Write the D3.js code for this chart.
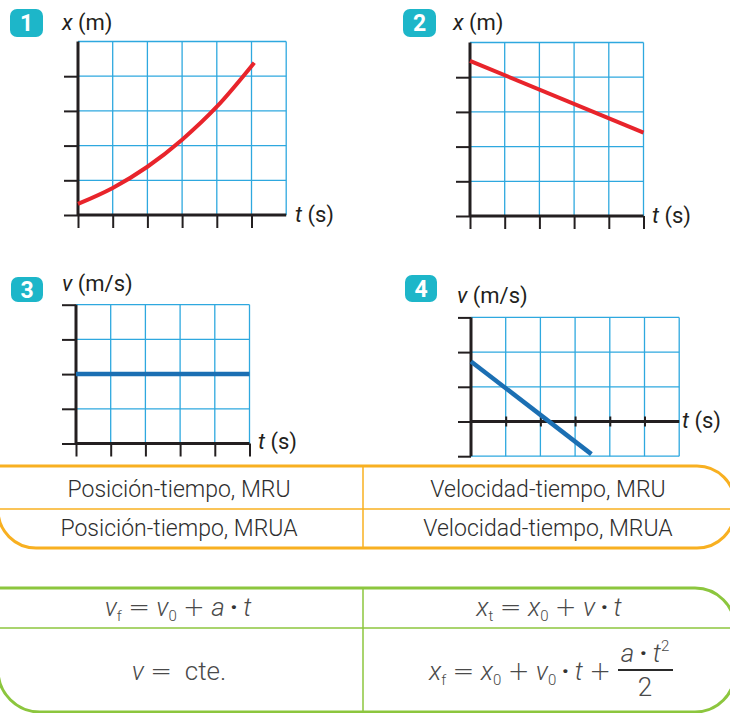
<!DOCTYPE html>
<html>
<head>
<meta charset="utf-8">
<script src="https://cdn.jsdelivr.net/npm/d3@7"></script>
<style>
  html, body { margin: 0; padding: 0; background: #fff; overflow: hidden; }
  svg { display: block; font-family: Roboto, "Noto Sans", sans-serif; }
</style>
</head>
<body>
<svg id="chart" width="730" height="713"></svg>
<script>
// ---- Data -------------------------------------------------------------
// Graph 1: position–time, uniformly accelerated motion (MRUA)
const g1Time = [0, 1, 2, 3, 4, 5.08];
const g1Pos  = [0.32, 0.78, 1.39, 2.17, 3.12, 4.39];
// Graph 2: position–time, uniform motion (MRU)
const g2Time = [0, 5];
const g2Pos  = [4.47, 2.4];
// Graph 3: velocity–time, uniform motion (MRU)
const g3Time = [0, 5];
const g3Vel  = [2, 2];
// Graph 4: velocity–time, uniformly accelerated motion (MRUA)
const g4Time = [0, 3.47];
const g4Vel  = [1.73, -0.94];

const panelNumbers = ["1", "2", "3", "4"];
const axisSymbols  = ["x", "x", "v", "v"];
const axisUnits    = [" (m)", " (m)", " (m/s)", " (m/s)"];
const timeLabel    = ["t", " (s)"];

// Matching table (orange) and formula table (green)
const graphTypes = [
  ["Posición-tiempo, MRU",  "Velocidad-tiempo, MRU"],
  ["Posición-tiempo, MRUA", "Velocidad-tiempo, MRUA"]
];

// ---- Setup ------------------------------------------------------------
const svg = d3.select("#chart");
const CELL = 34.7;
const GRID = "#2ea8df";
const INK = "#231f20";
const RED = "#e8242b";
const BLUE = "#1b6fb3";
const TEAL = "#1db6c9";

const zip = (a, b) => a.map((v, i) => [v, b[i]]);

const panels = [
  { ox: 78,  oy: 215,   cols: 6, yMin: 0,  yMax: 5,
    yTicks: [0, 1, 2, 3, 4], xTicks: [0, 1, 2, 3, 4, 5], cross: false,
    data: zip(g1Time, g1Pos), color: RED, width: 4, curve: d3.curveMonotoneX,
    badge: [10, 9, 33, 28], title: [62, 30], tlab: [295, 222] },
  { ox: 470, oy: 216,   cols: 5, yMin: 0,  yMax: 5,
    yTicks: [0, 1, 2, 3, 4], xTicks: [0, 1, 2, 3, 4, 5], cross: false,
    data: zip(g2Time, g2Pos), color: RED, width: 4, curve: d3.curveLinear,
    badge: [403, 9, 33, 28], title: [453, 30], tlab: [652, 223] },
  { ox: 76,  oy: 443.5, cols: 5, yMin: 0,  yMax: 4,
    yTicks: [0, 1, 2, 3, 4], xTicks: [0, 1, 2, 3, 4, 5], cross: false,
    data: zip(g3Time, g3Vel), color: BLUE, width: 4.5, curve: d3.curveLinear,
    badge: [11, 277, 32, 25], title: [62, 291], tlab: [258, 449] },
  { ox: 471, oy: 421.5, cols: 6, yMin: -1, yMax: 3,
    yTicks: [-1, 0, 1, 2, 3], xTicks: [1, 2, 3, 4, 5], cross: true,
    data: zip(g4Time, g4Vel), color: BLUE, width: 4.5, curve: d3.curveLinear,
    badge: [405, 275, 32, 27], title: [457, 303], tlab: [682, 428] }
];

panels.forEach((p, i) => {
  const g = svg.append("g");
  const x = d3.scaleLinear().domain([0, p.cols]).range([p.ox, p.ox + p.cols * CELL]);
  const y = d3.scaleLinear().domain([p.yMin, p.yMax])
    .range([p.oy - p.yMin * CELL, p.oy - p.yMax * CELL]);

  // grid
  g.append("g").selectAll("line.h").data(d3.range(p.yMin, p.yMax + 1)).join("line")
    .attr("x1", x(0)).attr("x2", x(p.cols))
    .attr("y1", d => y(d)).attr("y2", d => y(d))
    .attr("stroke", GRID).attr("stroke-width", 1.3);
  g.append("g").selectAll("line.v").data(d3.range(1, p.cols + 1)).join("line")
    .attr("x1", d => x(d)).attr("x2", d => x(d))
    .attr("y1", y(p.yMin)).attr("y2", y(p.yMax))
    .attr("stroke", GRID).attr("stroke-width", 1.3);

  // ticks
  const left = g.append("g").attr("transform", `translate(${x(0)},0)`)
    .call(d3.axisLeft(y).tickValues(p.yTicks).tickSize(p.cross ? 13 : 14).tickFormat(""));
  left.select(".domain").remove();
  left.selectAll("line").attr("stroke", INK).attr("stroke-width", 2);

  const tickLen = p.cross ? 10 : 13;
  const bottom = g.append("g")
    .attr("transform", `translate(0,${y(0) - (p.cross ? 5 : 0)})`)
    .call(d3.axisBottom(x).tickValues(p.xTicks).tickSize(tickLen).tickFormat(""));
  bottom.select(".domain").remove();
  bottom.selectAll("line").attr("stroke", INK).attr("stroke-width", 2);

  // axes
  g.append("line").attr("x1", x(0)).attr("x2", x(0))
    .attr("y1", y(p.yMax)).attr("y2", y(p.yMin))
    .attr("stroke", INK).attr("stroke-width", 3);
  g.append("line").attr("x1", x(0)).attr("x2", x(p.cols))
    .attr("y1", y(0)).attr("y2", y(0))
    .attr("stroke", INK).attr("stroke-width", 3);

  // series
  g.append("path").datum(p.data)
    .attr("d", d3.line().x(d => x(d[0])).y(d => y(d[1])).curve(p.curve))
    .attr("fill", "none").attr("stroke", p.color).attr("stroke-width", p.width);

  // number badge
  const [bx, by, bw, bh] = p.badge;
  g.append("rect").attr("x", bx).attr("y", by).attr("width", bw).attr("height", bh)
    .attr("rx", 7).attr("fill", TEAL);
  g.append("text").attr("x", bx + bw / 2).attr("y", by + bh / 2 + 8)
    .attr("text-anchor", "middle").attr("fill", "#fff")
    .attr("font-size", 23).attr("font-weight", 700).text(panelNumbers[i]);

  // axis titles
  const ttl = g.append("text").attr("x", p.title[0]).attr("y", p.title[1])
    .attr("font-size", 22).attr("fill", INK);
  ttl.append("tspan").attr("font-style", "italic").text(axisSymbols[i]);
  ttl.append("tspan").style("white-space", "pre").text(axisUnits[i]);

  const tl = g.append("text").attr("x", p.tlab[0]).attr("y", p.tlab[1])
    .attr("font-size", 22).attr("fill", INK);
  tl.append("tspan").attr("font-style", "italic").text(timeLabel[0]);
  tl.append("tspan").style("white-space", "pre").text(timeLabel[1]);
});

// ---- Rounded table frames ----------------------------------------------
function frame(top, bottom, rRight, rLeft) {
  const L = -2, R = 735;
  return `M${L},${top} H${R - rRight} A${rRight},${rRight} 0 0 1 ${R},${top + rRight}` +
    ` V${bottom - rRight} A${rRight},${rRight} 0 0 1 ${R - rRight},${bottom}` +
    ` H${L + rLeft} A${rLeft},${rLeft} 0 0 1 ${L},${bottom - rLeft} Z`;
}
const COL_DIV = 363;
const colCenters = [179, 548];

// orange table
const ORANGE = "#f8b021";
const t1 = svg.append("g");
t1.append("line").attr("x1", 0).attr("x2", 730).attr("y1", 509).attr("y2", 509)
  .attr("stroke", ORANGE).attr("stroke-width", 1.5);
t1.append("line").attr("x1", COL_DIV).attr("x2", COL_DIV).attr("y1", 466).attr("y2", 548)
  .attr("stroke", ORANGE).attr("stroke-width", 1.5);
t1.append("path").attr("d", frame(466, 548, 38, 38))
  .attr("fill", "none").attr("stroke", ORANGE).attr("stroke-width", 3);
const rowBase = [497, 536];
graphTypes.forEach((row, r) => row.forEach((label, c) => {
  t1.append("text").attr("x", colCenters[c]).attr("y", rowBase[r])
    .attr("text-anchor", "middle").attr("font-size", 23).attr("font-weight", 300)
    .attr("fill", "#2e2e2e")
    .text(label);
}));

// green table with the kinematics formulas
const GREEN = "#8cc63e";
const t2 = svg.append("g");
t2.append("line").attr("x1", 0).attr("x2", 730).attr("y1", 628).attr("y2", 628)
  .attr("stroke", GREEN).attr("stroke-width", 1.5);
t2.append("line").attr("x1", COL_DIV).attr("x2", COL_DIV).attr("y1", 588).attr("y2", 712)
  .attr("stroke", GREEN).attr("stroke-width", 1.5);
t2.append("path").attr("d", frame(588, 712, 40, 42))
  .attr("fill", "none").attr("stroke", GREEN).attr("stroke-width", 3);

const MATH = "#4a4a4a";
const FS = 26, SUB = 15, SHIFT = 5;
// parts: [text, kind] with kind: i = italic variable, s = subscript, p = superscript,
// o = operator, d = multiplication dot, u = upright text
function formula(x, y, parts, anchor) {
  const t = t2.append("text").attr("x", x).attr("y", y)
    .attr("text-anchor", anchor).attr("fill", MATH)
    .attr("font-size", FS).attr("font-weight", 300).style("white-space", "pre");
  let shift = 0;
  parts.forEach(([txt, kind]) => {
    const s = t.append("tspan").text(txt);
    let target = 0;
    if (kind === "s") target = SHIFT;
    if (kind === "p") target = -11;
    s.attr("dy", target - shift); shift = target;
    if (kind === "i") s.attr("font-style", "italic");
    if (kind === "s" || kind === "p") s.attr("font-size", SUB);
    if (kind === "o") s.attr("font-family", "DejaVu Sans").attr("font-weight", 200);
    if (kind === "d") s.attr("font-weight", 700).attr("fill", "#333");
  });
  return t;
}

const DOT = "\u2009·\u2009";
formula(178, 616, [["v", "i"], ["f", "s"], [" ", "u"], ["=", "o"], [" ", "u"], ["v", "i"], ["0", "s"],
  [" ", "u"], ["+", "o"], [" ", "u"], ["a", "i"], [DOT, "d"], ["t", "i"]], "middle");
formula(549, 616, [["x", "i"], ["t", "s"], [" ", "u"], ["=", "o"], [" ", "u"], ["x", "i"], ["0", "s"],
  [" ", "u"], ["+", "o"], [" ", "u"], ["v", "i"], [DOT, "d"], ["t", "i"]], "middle");
formula(179, 680, [["v", "i"], [" ", "u"], ["=", "o"], ["  cte.", "u"]], "middle");
formula(611, 680, [["x", "i"], ["f", "s"], [" ", "u"], ["=", "o"], [" ", "u"], ["x", "i"], ["0", "s"],
  [" ", "u"], ["+", "o"], [" ", "u"], ["v", "i"], ["0", "s"], [DOT, "d"], ["t", "i"], [" ", "u"],
  ["+", "o"]], "end");
// fraction a·t² / 2
formula(645, 662, [["a", "i"], [DOT, "d"], ["t", "i"], ["2", "p"]], "middle");
t2.append("line").attr("x1", 618).attr("x2", 673).attr("y1", 670).attr("y2", 670)
  .attr("stroke", "#2a2a2a").attr("stroke-width", 2.2);
formula(645, 696, [["2", "u"]], "middle");
</script>
</body>
</html>
